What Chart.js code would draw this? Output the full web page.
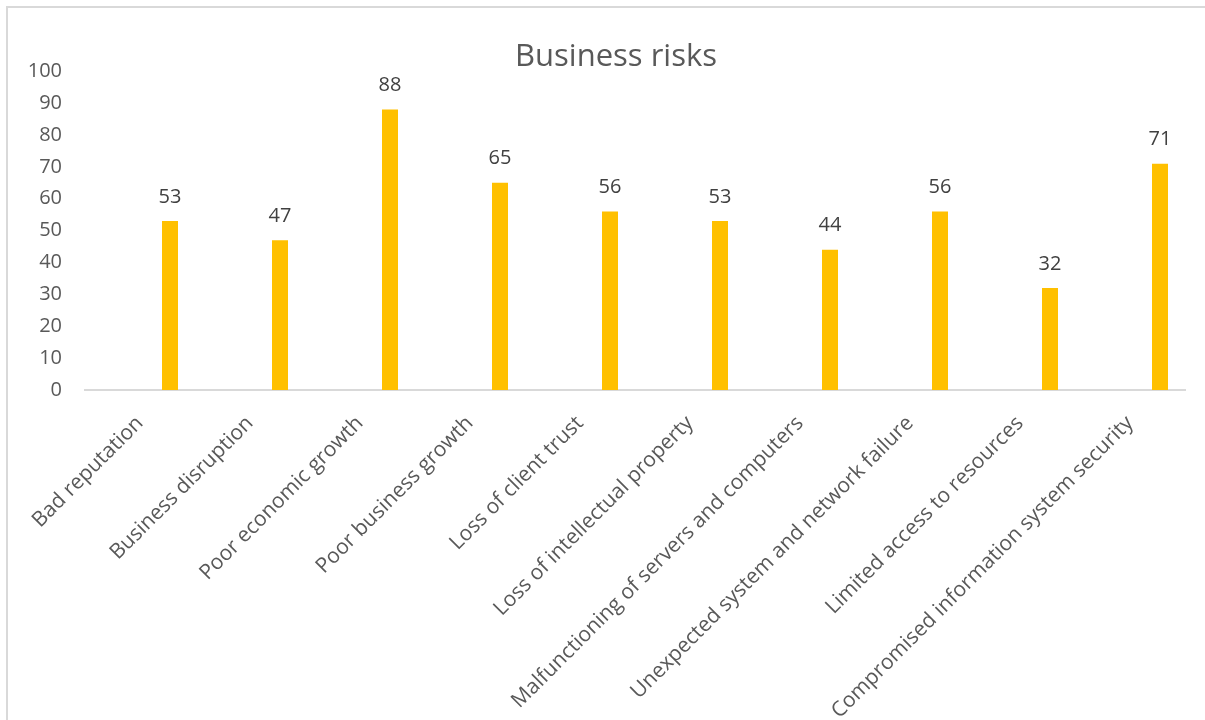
<!DOCTYPE html>
<html>
<head>
<meta charset="utf-8">
<title>Business risks</title>
<script src="https://cdn.jsdelivr.net/npm/chart.js@4.4.1/dist/chart.umd.min.js"></script>
<style>
  html, body { margin: 0; padding: 0; background: #fff; overflow: hidden; }
  #frame {
    position: absolute;
    left: 6px;
    top: 6px;
    width: 1216px;
    height: 760px;
    border: 2px solid #d9d9d9;
  }
</style>
</head>
<body>
<div id="frame">
  <canvas id="risk-chart" width="1216" height="760"></canvas>
</div>
<script>
// Risk categories and how many respondents named each one
const categories = [
    'Bad reputation',
    'Business disruption',
    'Poor economic growth',
    'Poor business growth',
    'Loss of client trust',
    'Loss of intellectual property',
    'Malfunctioning of servers and computers',
    'Unexpected system and network failure',
    'Limited access to resources',
    'Compromised information system security'
];
const riskScores = [53, 47, 88, 65, 56, 53, 44, 56, 32, 71];

// Empty series that sit before the real one in each cluster
const emptySeries = [null, null, null, null, null, null, null, null, null, null];

const yTicks = { min: 0, max: 100, step: 10 };

const textGray = '#595959';
const barColor = '#FFC000';

// Writes the value above each bar
const valueLabels = {
    id: 'valueLabels',
    afterDatasetsDraw(chart) {
        const ctx = chart.ctx;
        const meta = chart.getDatasetMeta(2);
        ctx.save();
        ctx.font = '20px "Open Sans"';
        ctx.fillStyle = '#404040';
        ctx.textAlign = 'center';
        ctx.textBaseline = 'middle';
        meta.data.forEach((bar, i) => {
            ctx.fillText(String(riskScores[i]), bar.x, bar.y - 24);
        });
        ctx.restore();
    }
};

const ctx = document.getElementById('risk-chart').getContext('2d');

new Chart(ctx, {
    type: 'bar',
    data: {
        labels: categories,
        datasets: [
            { label: 'Series 1', data: emptySeries, backgroundColor: barColor },
            { label: 'Series 2', data: emptySeries, backgroundColor: barColor },
            {
                label: 'Business risks',
                data: riskScores,
                backgroundColor: barColor,
                borderWidth: 0
            }
        ]
    },
    options: {
        responsive: false,
        animation: false,
        categoryPercentage: 90 / 110,
        barPercentage: 16 / 30,
        layout: {
            padding: 0
        },
        plugins: {
            legend: { display: false },
            tooltip: { enabled: false },
            title: {
                display: true,
                text: 'Business risks',
                color: textGray,
                font: { family: '"Open Sans"', size: 31, weight: 'normal', lineHeight: 1.2 },
                padding: { top: 31, bottom: -5 }
            }
        },
        scales: {
            x: {
                grid: { display: false },
                border: { display: true, color: '#d9d9d9', width: 2 },
                ticks: {
                    color: textGray,
                    font: { family: '"Open Sans"', size: 21 },
                    minRotation: 45,
                    maxRotation: 45,
                    autoSkip: false,
                    padding: 13
                },
                afterFit(scale) { scale.height = 378; }
            },
            y: {
                min: yTicks.min,
                max: yTicks.max,
                grid: { display: false },
                border: { display: false },
                ticks: {
                    stepSize: yTicks.step,
                    color: textGray,
                    font: { family: '"Open Sans"', size: 20 },
                    padding: 15
                },
                afterFit(scale) { scale.width = 77; }
            },
            // blank strip on the right so the plot stops short of the frame
            yRight: {
                position: 'right',
                grid: { display: false },
                border: { display: false },
                ticks: { display: false },
                afterFit(scale) { scale.width = 39; }
            }
        }
    },
    plugins: [valueLabels]
});
</script>
</body>
</html>
